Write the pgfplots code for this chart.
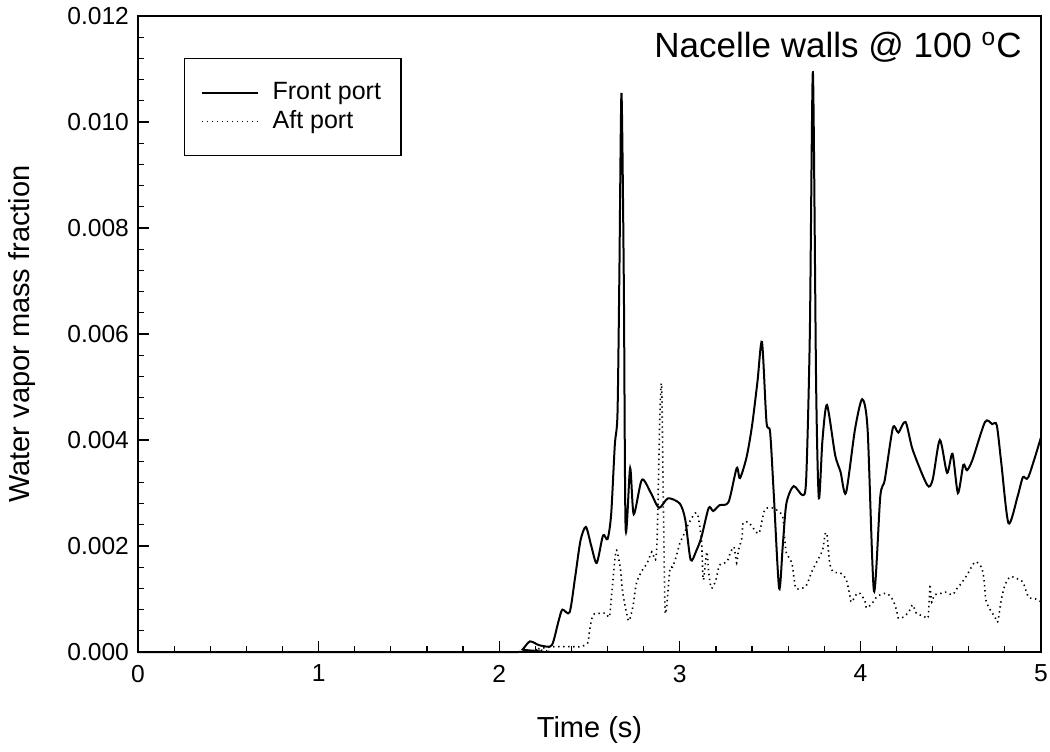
\documentclass[border=0pt]{standalone}
\usepackage{fontspec}
\setmainfont{Liberation Sans}
\usepackage{pgfplots}
\pgfplotsset{compat=1.18}

\begin{document}
\begin{tikzpicture}
\begin{axis}[name=ax,
  scale only axis, width=451.5pt, height=318pt,
  xmin=0, xmax=5, ymin=0, ymax=0.012,
  xtick={0,1,2,3,4,5}, ytick={0,0.002,0.004,0.006,0.008,0.010,0.012},
  minor x tick num=4, minor y tick num=4,
  tick align=inside, tick pos=left,
  major tick length=5.5pt, minor tick length=3pt,
  every tick/.style={black, line width=0.6pt},
  axis line style={line width=0.8pt},
  scaled y ticks=false,
  yticklabel style={/pgf/number format/fixed, /pgf/number format/fixed zerofill, /pgf/number format/precision=3},
  /pgf/number format/assume math mode=true,
  ticklabel style={font=\fontsize{12.3}{14}\selectfont},
  xticklabel style={yshift=-3pt},
  yticklabel style={xshift=-1pt},
  xlabel={Time (s)}, ylabel={Water vapor mass fraction},
  label style={font=\fontsize{14.5}{17}\selectfont},
  xlabel style={at={(axis description cs:0.5,-0.123)}, anchor=center},
  ylabel style={at={(axis description cs:-0.128,0.5)}, anchor=center},
  clip=false,
  legend style={at={(0.051,0.934)}, anchor=north west, draw=black, line width=0.6pt,
    font=\fontsize{12.5}{14}\selectfont, inner xsep=8pt, inner ysep=10pt,
    row sep=0pt},
  legend cell align=left,
  legend image code/.code={\draw[#1] (0pt,0pt) -- (28pt,0pt); \path (33pt,0pt);},
]
\addplot[black, line width=1pt, smooth, tension=0.45] coordinates {
(0,0) (2.10,0) (2.13,0.00005) (2.17,0.0002) (2.22,0.00013) (2.28,0.0001) (2.30,0.0002)
(2.33,0.0006) (2.35,0.0008) (2.39,0.00075) (2.42,0.0014) (2.45,0.0021) (2.48,0.00236)
(2.51,0.0020) (2.54,0.00168) (2.575,0.0022) (2.60,0.00213) (2.62,0.0026) (2.64,0.0039)
(2.655,0.0045) (2.665,0.0070) (2.677,0.01055) (2.69,0.0070) (2.70,0.00234) (2.725,0.00347)
(2.745,0.0026) (2.79,0.00325) (2.84,0.0030) (2.885,0.00272) (2.935,0.0029) (3.0,0.0028)
(3.03,0.0025) (3.06,0.00174) (3.09,0.0019) (3.12,0.00217) (3.16,0.00272) (3.185,0.00266)
(3.22,0.00277) (3.27,0.00283) (3.315,0.00347) (3.333,0.00328) (3.37,0.00368) (3.40,0.00427)
(3.43,0.0051) (3.455,0.00585) (3.48,0.00434) (3.50,0.00415) (3.52,0.0030) (3.55,0.0012)
(3.57,0.0020) (3.59,0.0028) (3.63,0.00313) (3.68,0.00296) (3.70,0.00328) (3.72,0.0060)
(3.737,0.01094) (3.755,0.0050) (3.77,0.0029) (3.79,0.0040) (3.815,0.00466) (3.86,0.00372)
(3.89,0.0034) (3.92,0.0030) (3.97,0.0042) (4.01,0.00477) (4.04,0.00419) (4.075,0.00115)
(4.11,0.00293) (4.135,0.00325) (4.18,0.00423) (4.21,0.00414) (4.25,0.00434) (4.29,0.00381)
(4.37,0.00315) (4.40,0.00325) (4.44,0.0040) (4.48,0.00338) (4.51,0.00374) (4.54,0.0030)
(4.57,0.00353) (4.59,0.00343) (4.62,0.00362) (4.69,0.00434) (4.73,0.0043) (4.755,0.00428)
(4.78,0.00357) (4.82,0.00243) (4.87,0.00293) (4.90,0.0033) (4.93,0.0033) (5.0,0.00405)
};
\addlegendentry{Front port}
\addplot[black, line width=0.8pt, dash pattern=on 0.7pt off 1.8pt, smooth, tension=0.45] coordinates {
(0,0) (2.15,0) (2.20,0.00005) (2.30,0.0001) (2.41,0.0001) (2.45,0.0001) (2.49,0.00017)
(2.50,0.0004) (2.52,0.0007) (2.56,0.00073) (2.59,0.00073) (2.61,0.00066) (2.62,0.00098)
(2.64,0.00173) (2.65,0.00192) (2.67,0.0016) (2.685,0.0011) (2.71,0.00066) (2.72,0.00059)
(2.74,0.00085) (2.76,0.0013) (2.79,0.00153) (2.82,0.00168) (2.845,0.00189) (2.865,0.00174)
(2.875,0.0022) (2.89,0.0045) (2.90,0.0050) (2.91,0.0026) (2.92,0.00073) (2.945,0.00155)
(2.96,0.0016) (2.98,0.0018) (3.0,0.00205) (3.02,0.0022) (3.04,0.00236) (3.065,0.00252)
(3.085,0.00262) (3.10,0.00258) (3.12,0.00211) (3.13,0.00136) (3.15,0.00189) (3.16,0.0015)
(3.175,0.0012) (3.20,0.00136) (3.22,0.00164) (3.26,0.0017) (3.28,0.00187) (3.30,0.00198)
(3.315,0.00168) (3.325,0.00192) (3.345,0.00217) (3.35,0.00243) (3.38,0.00245) (3.415,0.0023)
(3.44,0.00225) (3.47,0.00268) (3.51,0.00272) (3.545,0.00266) (3.57,0.00255) (3.58,0.00217)
(3.59,0.00187) (3.62,0.00168) (3.64,0.00123) (3.66,0.00119) (3.70,0.00125) (3.73,0.00151)
(3.755,0.00168) (3.79,0.00192) (3.805,0.00223) (3.815,0.0022) (3.83,0.00168) (3.85,0.00151)
(3.89,0.00149) (3.92,0.00138) (3.94,0.0011) (3.95,0.00094) (3.98,0.0011) (4.0,0.0011)
(4.025,0.00096) (4.035,0.00083) (4.065,0.00092) (4.09,0.00104) (4.125,0.0011) (4.15,0.0011)
(4.18,0.00098) (4.20,0.00079) (4.21,0.00064) (4.24,0.00066) (4.27,0.00077) (4.29,0.00089)
(4.31,0.00073) (4.35,0.00068) (4.375,0.00066) (4.385,0.00123) (4.395,0.00094) (4.41,0.00108)
(4.44,0.0011) (4.47,0.00113) (4.51,0.00108) (4.535,0.0012) (4.56,0.0013) (4.59,0.00145)
(4.635,0.0017) (4.67,0.0016) (4.685,0.00136) (4.695,0.00098) (4.72,0.00079) (4.745,0.00066)
(4.76,0.00057) (4.78,0.00098) (4.80,0.00126) (4.83,0.00142) (4.87,0.00138) (4.90,0.00132)
(4.93,0.00104) (4.97,0.001) (5.0,0.00095)
};
\addlegendentry{Aft port}
\node[anchor=base east, font=\fontsize{17.5}{20}\selectfont, inner sep=0pt]
  at (rel axis cs:0.979,0.934) {Nacelle walls @ 100 \textsuperscript{o}C};
\end{axis}
\pgfresetboundingbox
\path[use as bounding box] ([xshift=-69pt,yshift=-49.5pt]ax.south west) rectangle ([xshift=4.5pt,yshift=8pt]ax.north east);
\end{tikzpicture}
\end{document}
